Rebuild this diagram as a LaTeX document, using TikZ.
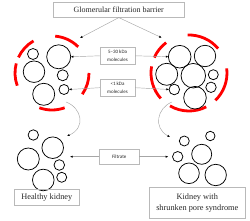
\documentclass[tikz,border=0pt]{standalone}
\usepackage{fontspec}
\setmainfont{Liberation Serif}
\newfontfamily\smallsans{Carlito}
\usetikzlibrary{arrows.meta}
\begin{document}
\begin{tikzpicture}[x=1pt,y=-1pt,
 ball/.style={circle,draw=black,line width=0.75pt,inner sep=0pt,outer sep=0pt,minimum size=#1},
 ring/.style={circle,inner sep=0pt,outer sep=0pt,minimum size=#1},
 reddash/.style={draw=red,line width=2.8pt},
 lbl/.style={draw=gray!55,line width=0.5pt,inner sep=0pt,text=black!85,align=center},
 conn/.style={draw=gray!70,line width=0.45pt,-{Latex[length=2.6pt,width=2.2pt,color=black]}},
]
\useasboundingbox (0,0) rectangle (250,221);
% red rings
\node[ring=74pt] (rl) at (52,73) {};
\node[ring=76pt] (rr) at (189,73) {};
\foreach \a/\b in {45/85,120/155,165/200,250/290,-35/0}
  \draw[reddash] (rl.\a) arc[start angle=\a, end angle=\b, radius=37pt];
\foreach \a/\b in {40/92,127/156,170/222,240/297,-46/7}
  \draw[reddash] (rr.\a) arc[start angle=\a, end angle=\b, radius=38pt];
% top-left particles
\node[ball=11pt] (a1) at (33,54) {};
\node[ball=24pt] (a2) at (58.7,56.8) {};
\node[ball=21.5pt] (a3) at (34,71.7) {};
\node[ball=11pt] (a4) at (62.7,75.3) {};
\node[ball=22pt] (a5) at (43.7,94.3) {};
\node[ball=10pt] (a6) at (64,89.5) {};
% top-right particles
\node[ball=22.6pt] (b1) at (179.7,56.7) {};
\node[ball=21.4pt] (b2) at (205,56) {};
\node[ball=22pt] (b3) at (166.7,74.3) {};
\node[ball=24.5pt] (b4) at (193.3,75.7) {};
\node[ball=10pt] (b5) at (213.3,74.7) {};
\node[ball=10.6pt] (b6) at (174.3,89.5) {};
\node[ball=10.4pt] (b7) at (211,87.3) {};
\node[ball=22.6pt] (b8) at (195,97.7) {};
% bottom-left particles
\node[ball=10.4pt] (c1) at (33.3,135) {};
\node[ball=21.6pt] (c2) at (52.7,147.7) {};
\node[ball=22pt] (c3) at (28.3,159) {};
\node[ball=10.6pt] (c4) at (59.3,165) {};
\node[ball=21.6pt] (c5) at (43.3,180) {};
\node[ball=10pt] (c6) at (61.7,177.3) {};
% bottom-right particles
\node[ball=10pt] (d1) at (184.3,141) {};
\node[ball=9.4pt] (d2) at (210.3,136) {};
\node[ball=10.4pt] (d3) at (177.7,156.7) {};
\node[ball=20pt] (d4) at (201.7,154.3) {};
\node[ball=20.6pt] (d5) at (189,173.3) {};
\node[ball=21.4pt] (d6) at (215.7,175) {};
% labels
\node[lbl,minimum width=131pt,minimum height=14.7pt,font=\fontsize{8}{9}\selectfont] (top) at (118.8,10) {Glomerular filtration barrier};
\node[lbl,minimum width=35pt,minimum height=17.3pt,font=\smallsans\fontsize{5}{7.5}\selectfont] (m530) at (117.5,55.8) {5–30 kDa\\molecules};
\node[lbl,minimum width=35pt,minimum height=16.7pt,font=\smallsans\fontsize{5}{7.5}\selectfont] (m1) at (117.5,87.7) {<1 kDa\\molecules};
\node[lbl,minimum width=39.7pt,minimum height=14.7pt,font=\smallsans\fontsize{5}{6}\selectfont] (filt) at (119.2,156.7) {Filtrate};
\node[lbl,minimum width=65pt,minimum height=15.7pt,font=\fontsize{8.3}{9}\selectfont] (hk) at (46.8,197.2) {Healthy kidney};
\node[lbl,minimum width=96.7pt,minimum height=31pt,font=\fontsize{8.3}{11}\selectfont] (ks) at (197.3,202.8) {Kidney with\\shrunken pore syndrome};
% connector ends
\coordinate (gL) at (80,38);
\coordinate (gR) at (161.7,37.7);
\coordinate (fL) at (70,156.7);
\coordinate (fR) at (168.3,156.7);
\coordinate (sL) at (66,102);
\coordinate (eL) at (67,136);
\coordinate (sR) at (172,102);
\coordinate (eR) at (170,137);
% connectors
\draw[conn] (top.south) -- (gL);
\draw[conn] (top.south) -- (gR);
\draw[conn] (m530.west) -- (a2.east);
\draw[conn] (m530.east) -- (b1.west);
\draw[conn] (m1.west) -- (a6.east);
\draw[conn] (m1.east) -- (b6.west);
\draw[conn] (filt.west) -- (fL);
\draw[conn] (filt.east) -- (fR);
\draw[conn] (sL) .. controls (82,108) and (86,128) .. (eL);
\draw[conn] (sR) .. controls (157,108) and (153,128) .. (eR);
\end{tikzpicture}
\end{document}
